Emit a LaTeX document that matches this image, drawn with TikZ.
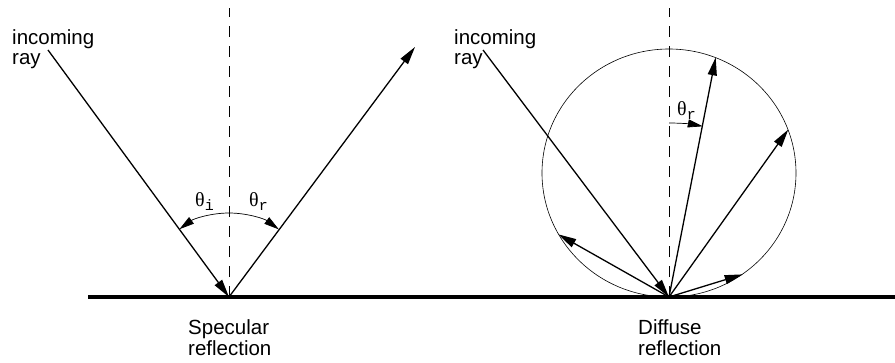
\documentclass[tikz,border=0pt]{standalone}
\usepackage{fontspec}
\setmainfont{Liberation Sans}
\setmonofont{Liberation Mono}
\newfontfamily\gorogbetu{Liberation Serif}
\usetikzlibrary{arrows.meta,positioning,calc,shapes.geometric}
\tikzset{
  sugar/.style={line width=1.3pt,-{Triangle[length=18pt,width=9pt]}},
  szogiv/.style={line width=0.7pt,-{Triangle[length=15pt,width=8pt]}},
  normalis/.style={line width=0.7pt,dash pattern=on 11pt off 9pt},
  felulet/.style={line width=4.5pt},
  felirat/.style={align=left,inner sep=0pt,font=\fontsize{20.5}{20.5}\selectfont},
  gorog/.style={inner sep=0pt,font=\fontsize{20}{20}\gorogbetu},
}
\newcommand{\szog}[1]{θ\raisebox{-4pt}{\fontsize{15}{15}\ttfamily #1}}

\begin{document}
\begin{tikzpicture}[x=1pt,y=1pt]
  \useasboundingbox (0,0) rectangle (895,362);
  % felulet
  \coordinate (F1) at (88,65); \coordinate (F2) at (895,65);
  \draw[felulet] (F1) -- (F2);
  % tukros visszaverodes
  \coordinate (P) at (229,65);
  \coordinate (Pbe) at (48,312);
  \coordinate (Pki) at (415,315);
  \coordinate (Pn) at (229,354);
  \draw[normalis] (P) -- (Pn);
  \draw[sugar] (Pbe) -- (P);
  \draw[sugar] (P) -- (Pki);
  \draw[szogiv] (P) ++(90:84) arc[start angle=90,end angle=126.2,radius=84];
  \draw[szogiv] (P) ++(90:84) arc[start angle=90,end angle=53.6,radius=84];
  \node[gorog,anchor=base west] (ti) at (195,155) {\szog{i}};
  \node[gorog,anchor=base west] (tr) at (249,155) {\szog{r}};
  \node[felirat,anchor=base west] (be1) at (12,297) {incoming\\ray};
  \node[felirat,anchor=base west] (tukor) at (188,7) {Specular\\reflection};
  % diffuz visszaverodes
  \coordinate (Q) at (669,65);
  \coordinate (Qbe) at (483,312);
  \coordinate (Qn) at (669,354);
  \node[ellipse,draw,line width=0.6pt,minimum width=254pt,minimum height=248pt,
        inner sep=0pt] (kor) at (669,189) {};
  \draw[normalis] (Q) -- (Qn);
  \draw[sugar] (Qbe) -- (Q);
  \foreach \a in {68,20,-54,-151}
    \draw[sugar] (Q) -- (kor.\a);
  \draw[szogiv] (Q) ++(90:174) arc[start angle=90,end angle=78.8,radius=174];
  \node[gorog,anchor=base west] (tq) at (677,246) {\szog{r}};
  \node[felirat,anchor=base west] (be2) at (454,297) {incoming\\ray};
  \node[felirat,anchor=base west] (diffuz) at (638,7) {Diffuse\\reflection};
\end{tikzpicture}
\end{document}
